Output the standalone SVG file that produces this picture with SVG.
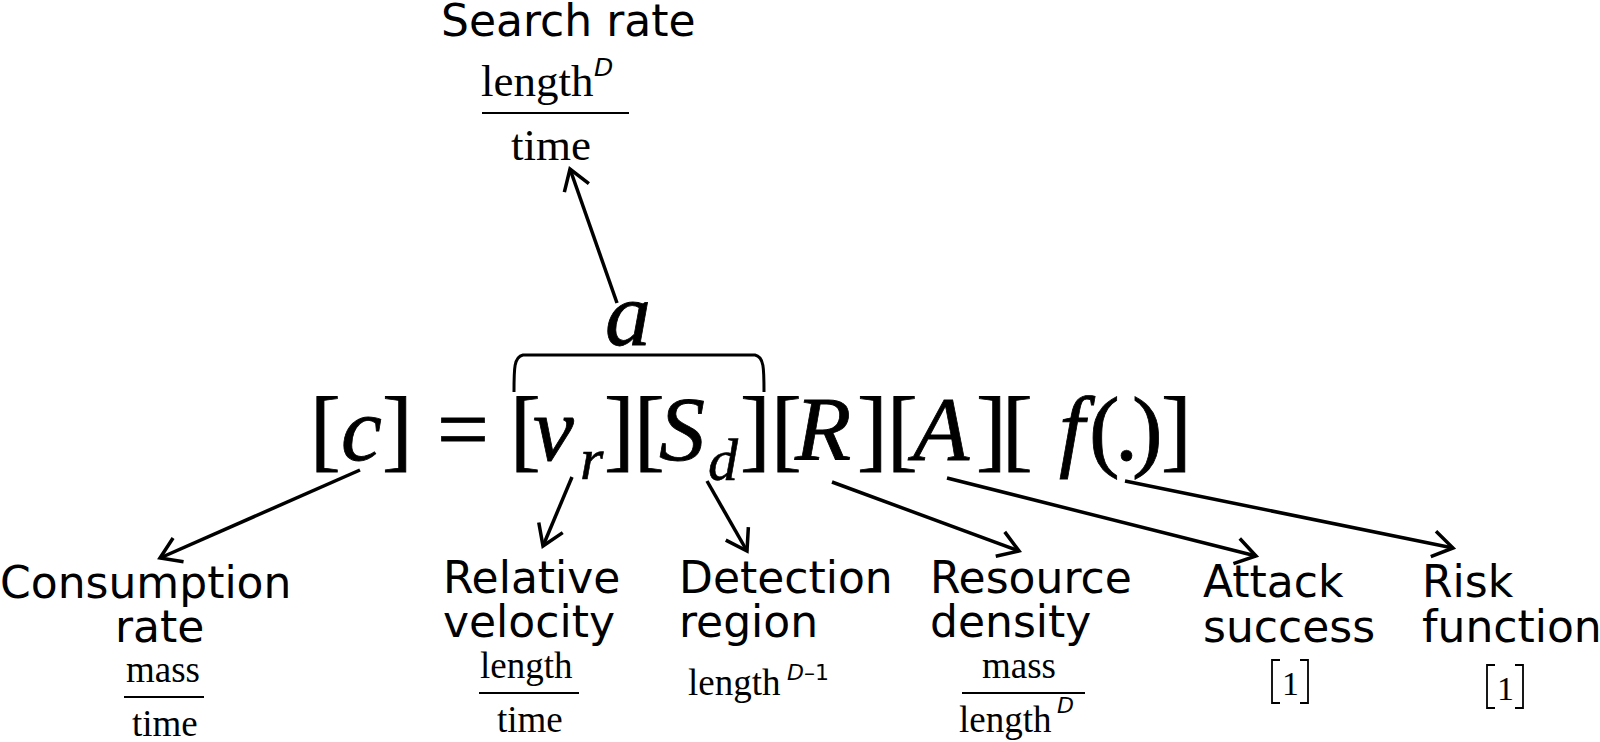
<svg xmlns="http://www.w3.org/2000/svg" width="1600" height="742" viewBox="0 0 1600 742">
<style>
.lbl{font-family:"DejaVu Sans",sans-serif;font-size:44px;fill:#000}
.eq{font-family:"Liberation Serif",serif;font-size:92px;fill:#000;stroke:#000;stroke-width:0.8}
.sub{font-family:"Liberation Serif",serif;font-size:60px;font-style:italic;fill:#000;stroke:#000;stroke-width:0.6}
.it{font-style:italic}
.u{font-family:"Liberation Serif",serif;font-size:37px;fill:#000}
.one{font-family:"Liberation Serif",serif;font-size:34px;fill:#000}
.ut{font-family:"Liberation Serif",serif;font-size:45px;fill:#000}
.sup{font-family:"DejaVu Sans",sans-serif;font-style:italic;font-size:22px;fill:#000}
.supl{font-family:"DejaVu Sans",sans-serif;font-style:italic;font-size:25px;fill:#000}
.fl{stroke:#000;stroke-width:2;fill:none}
.br{stroke:#000;stroke-width:1.8;fill:none}
.arr{stroke:#000;stroke-width:3.5;fill:none;marker-end:url(#ah)}
</style>
<defs>
<marker id="ah" markerUnits="userSpaceOnUse" viewBox="-24 -16 28 32" refX="0" refY="0" markerWidth="28" markerHeight="32" orient="auto">
<path d="M-20,-13 L0,0 L-20,13" stroke="#000" stroke-width="3.5" fill="none"/>
</marker>
</defs>
<rect width="1600" height="742" fill="#fff"/>

<g id="equation">
<text class="eq" y="460"><tspan x="310">[</tspan><tspan class="it" x="341">c</tspan><tspan x="382">]</tspan><tspan x="437">=</tspan><tspan x="510">[</tspan><tspan class="it" x="533">v</tspan></text>
<text class="sub" x="580" y="479">r</text>
<text class="eq" y="460"><tspan x="604">]</tspan><tspan x="634">[</tspan><tspan class="it" x="659">S</tspan></text>
<text class="sub" x="708" y="480">d</text>
<text class="eq" y="460"><tspan x="740">]</tspan><tspan x="771">[</tspan><tspan class="it" x="795">R</tspan><tspan x="857">]</tspan><tspan x="887">[</tspan><tspan class="it" x="913">A</tspan><tspan x="976">]</tspan><tspan x="1002">[</tspan><tspan class="it" x="1059">f</tspan><tspan x="1089">(</tspan><tspan x="1115">.</tspan><tspan x="1132">)</tspan><tspan x="1161">]</tspan></text>
</g>

<g id="search-rate">
<text class="eq it" x="605" y="345">a</text>
<path d="M514,392 C514,368 514,357 523,355 L755,355 C764,357 764,368 764,392" stroke="#000" stroke-width="3" fill="none"/>
<text class="lbl" x="441" y="36">Search rate</text>
<text class="ut" x="481" y="96">length</text>
<text class="supl" x="594" y="76">D</text>
<line class="fl" x1="482" y1="113" x2="629" y2="113"/>
<text class="ut" x="511" y="160">time</text>
</g>

<g id="consumption-rate">
<text class="lbl" x="0" y="598">Consumption</text>
<text class="lbl" x="115" y="642">rate</text>
<text class="u" x="126" y="682">mass</text>
<line class="fl" x1="124" y1="697" x2="204" y2="697"/>
<text class="u" x="132" y="736">time</text>
</g>

<g id="relative-velocity">
<text class="lbl" x="443" y="593">Relative</text>
<text class="lbl" x="443" y="637">velocity</text>
<text class="u" x="480" y="678">length</text>
<line class="fl" x1="479" y1="693" x2="579" y2="693"/>
<text class="u" x="497" y="732">time</text>
</g>

<g id="detection-region">
<text class="lbl" x="679" y="593">Detection</text>
<text class="lbl" x="679" y="637">region</text>
<text class="u" x="688" y="695">length</text>
<text class="sup" x="787" y="680">D<tspan font-style="normal">–1</tspan></text>
</g>

<g id="resource-density">
<text class="lbl" x="930" y="593">Resource</text>
<text class="lbl" x="930" y="637">density</text>
<text class="u" x="982" y="678">mass</text>
<line class="fl" x1="962" y1="693" x2="1085" y2="693"/>
<text class="u" x="959" y="732">length</text>
<text class="sup" x="1057" y="713">D</text>
</g>

<g id="attack-success">
<text class="lbl" x="1203" y="597">Attack</text>
<text class="lbl" x="1203" y="642">success</text>
<path class="br" d="M1280,660 L1272,660 L1272,703 L1280,703"/>
<text class="one" x="1282" y="695">1</text>
<path class="br" d="M1300,660 L1308,660 L1308,703 L1300,703"/>
</g>

<g id="risk-function">
<text class="lbl" x="1422" y="597">Risk</text>
<text class="lbl" x="1422" y="642">function</text>
<path class="br" d="M1495,665 L1487,665 L1487,708 L1495,708"/>
<text class="one" x="1497" y="700">1</text>
<path class="br" d="M1515,665 L1523,665 L1523,708 L1515,708"/>
</g>

<g id="connectors">
<line class="arr" x1="617" y1="303" x2="570" y2="169"/>
<line class="arr" x1="360" y1="470" x2="160" y2="558"/>
<line class="arr" x1="572" y1="477" x2="543" y2="546"/>
<line class="arr" x1="707" y1="481" x2="747" y2="551"/>
<line class="arr" x1="832" y1="482" x2="1019" y2="551"/>
<line class="arr" x1="947" y1="478" x2="1256" y2="556"/>
<line class="arr" x1="1125" y1="481" x2="1453" y2="548"/>
</g>
</svg>
